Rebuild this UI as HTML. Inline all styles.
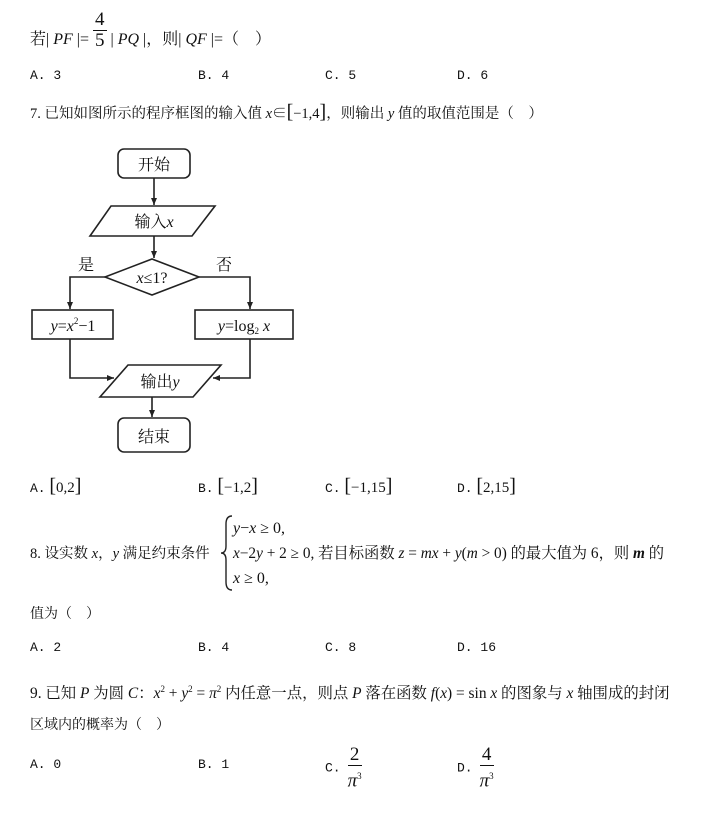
<!DOCTYPE html>
<html><head><meta charset="utf-8"><style>
body{margin:0;width:705px;height:817px;background:#fff;position:relative;overflow:hidden;font-family:"Liberation Serif","Noto Serif CJK SC",serif;color:#111}
.t{position:absolute;white-space:nowrap;font-size:14px;line-height:16px}
.m{font-family:"Liberation Mono","Noto Sans CJK SC",monospace;font-size:13px}
i{font-style:italic}
.f{display:inline-block;vertical-align:middle;text-align:center;line-height:20px;font-size:19px}
.f span{display:block}
.f .n{border-bottom:1px solid #111;padding:0 2px}
.b{font-size:20px}
</style></head><body>
<div class="t" style="left:30px;top:30px;font-size:16px">若| <i>PF</i> |= <span class="f" style="margin-top:-20px"><span class="n">4</span><span>5</span></span> | <i>PQ</i> |，则| <i>QF</i> |=（&nbsp;&nbsp;&nbsp;&nbsp;）</div>
<div class="t m" style="left:30px;top:68px">A. 3</div>
<div class="t m" style="left:198px;top:68px">B. 4</div>
<div class="t m" style="left:325px;top:68px">C. 5</div>
<div class="t m" style="left:457px;top:68px">D. 6</div>
<div class="t" style="left:30px;top:104px;font-size:14.5px">7. 已知如图所示的程序框图的输入值 <i>x</i>∈<span class="b">[</span>−1,4<span class="b">]</span>，则输出 <i>y</i> 值的取值范围是（&nbsp;&nbsp;&nbsp;&nbsp;）</div>

<svg style="position:absolute;left:0;top:0" width="705" height="817">
<defs><marker id="a" markerWidth="8" markerHeight="8" refX="7" refY="4" orient="auto" markerUnits="userSpaceOnUse"><path d="M0,1 L7,4 L0,7Z" fill="#222"/></marker></defs>
<g fill="none" stroke="#222" stroke-width="1.6">
<rect x="118" y="149" width="72" height="29" rx="6"/>
<line x1="154" y1="178" x2="154" y2="205" marker-end="url(#a)"/>
<polygon points="111,206 215,206 192,236 90,236"/>
<line x1="154" y1="236" x2="154" y2="258" marker-end="url(#a)"/>
<polygon points="105,277 152,259 199,277 152,295"/>
<polyline points="105,277 70,277 70,309" marker-end="url(#a)"/>
<polyline points="199,277 250,277 250,309" marker-end="url(#a)"/>
<rect x="32" y="310" width="81" height="29"/>
<rect x="195" y="310" width="98" height="29"/>
<polyline points="70,339 70,378 114,378" marker-end="url(#a)"/>
<polyline points="250,339 250,378 213,378" marker-end="url(#a)"/>
<polygon points="128,365 221,365 193,397 100,397"/>
<line x1="152" y1="397" x2="152" y2="417" marker-end="url(#a)"/>
<rect x="118" y="418" width="72" height="34" rx="6"/>
<path d="M232,516 Q226,516 226,524 L226,546 Q226,553 221,553 Q226,553 226,560 L226,582 Q226,590 232,590" stroke-width="1.4"/>
</g>
<g font-family="Liberation Serif,Noto Serif CJK SC,serif" font-size="16" fill="#111" text-anchor="middle">
<text x="154" y="170">开始</text>
<text x="154" y="227">输入<tspan font-style="italic">x</tspan></text>
<text x="152" y="283"><tspan font-style="italic">x</tspan>≤1?</text>
<text x="86" y="270">是</text>
<text x="224" y="270">否</text>
<text x="73" y="331"><tspan font-style="italic">y</tspan>=<tspan font-style="italic">x</tspan><tspan font-size="9" dy="-7">2</tspan><tspan dy="7">−1</tspan></text>
<text x="244" y="331"><tspan font-style="italic">y</tspan>=log<tspan font-size="9" dy="3">2</tspan><tspan dy="-3"> </tspan><tspan font-style="italic">x</tspan></text>
<text x="160" y="387">输出<tspan font-style="italic">y</tspan></text>
<text x="154" y="442">结束</text>
</g>
</svg>

<div class="t" style="left:30px;top:478px;font-size:15px"><span class="m">A.</span> <span class="b">[</span>0,2<span class="b">]</span></div>
<div class="t" style="left:198px;top:478px;font-size:15px"><span class="m">B.</span> <span class="b">[</span>−1,2<span class="b">]</span></div>
<div class="t" style="left:325px;top:478px;font-size:15px"><span class="m">C.</span> <span class="b">[</span>−1,15<span class="b">]</span></div>
<div class="t" style="left:457px;top:478px;font-size:15px"><span class="m">D.</span> <span class="b">[</span>2,15<span class="b">]</span></div>

<div class="t" style="left:30px;top:546px;font-size:14.5px">8. 设实数 <i>x</i>，<i>y</i> 满足约束条件</div>
<div class="t" style="left:233px;top:521px;font-size:16px"><i>y</i>−<i>x</i> ≥ 0,</div>
<div class="t" style="left:233px;top:546px;font-size:15.3px"><i>x</i>−2<i>y</i> + 2 ≥ 0, 若目标函数 <i>z</i> = <i>mx</i> + <i>y</i>(<i>m</i> &gt; 0) 的最大值为 6，则 <b><i>m</i></b> 的</div>
<div class="t" style="left:233px;top:571px;font-size:16px"><i>x</i> ≥ 0,</div>
<div class="t" style="left:30px;top:607px">值为（&nbsp;&nbsp;&nbsp;&nbsp;）</div>
<div class="t m" style="left:30px;top:640px">A. 2</div>
<div class="t m" style="left:198px;top:640px">B. 4</div>
<div class="t m" style="left:325px;top:640px">C. 8</div>
<div class="t m" style="left:457px;top:640px">D. 16</div>
<div class="t" style="left:30px;top:681px;font-size:15.4px">9. 已知 <i>P</i> 为圆 <i>C</i>：<i>x</i><sup style="font-size:9px">2</sup> + <i>y</i><sup style="font-size:9px">2</sup> = <i>π</i><sup style="font-size:9px">2</sup> 内任意一点，则点 <i>P</i> 落在函数 <i>f</i>(<i>x</i>) = sin <i>x</i> 的图象与 <i>x</i> 轴围成的封闭</div>
<div class="t" style="left:30px;top:718px">区域内的概率为（&nbsp;&nbsp;&nbsp;&nbsp;）</div>
<div class="t m" style="left:30px;top:757px">A. 0</div>
<div class="t m" style="left:198px;top:757px">B. 1</div>
<div class="t" style="left:325px;top:745px"><span class="m">C.</span> &nbsp;<span class="f"><span class="n">2</span><span><i>π</i><sup style="font-size:9px">3</sup></span></span></div>
<div class="t" style="left:457px;top:745px"><span class="m">D.</span> &nbsp;<span class="f"><span class="n">4</span><span><i>π</i><sup style="font-size:9px">3</sup></span></span></div>
</body></html>
